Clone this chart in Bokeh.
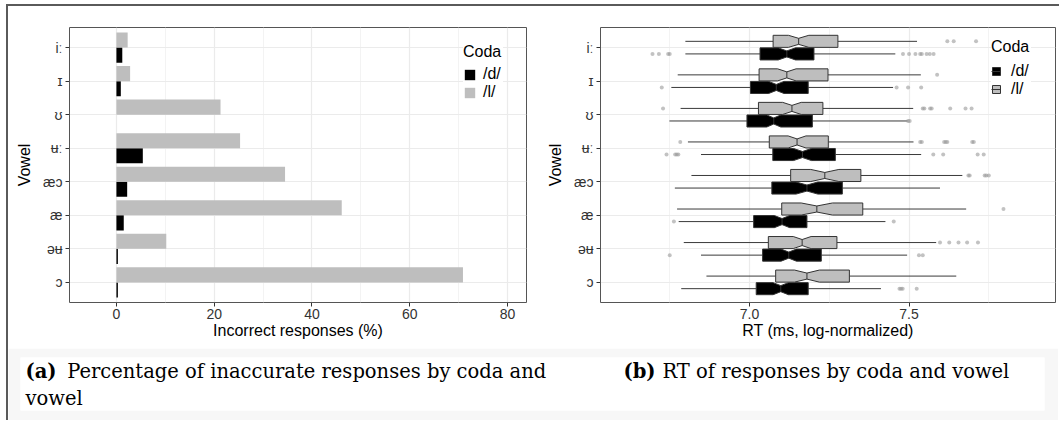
from bokeh.plotting import figure
from bokeh.models import Range1d, FixedTicker, NumeralTickFormatter, Legend, LegendItem, ColumnDataSource
from bokeh.layouts import row, column
from bokeh.embed import file_html
from bokeh.resources import INLINE
from bokeh.core.properties import value

# ---------------- data ----------------
vowels = ["iː", "ɪ", "ʊ", "ʉː", "æɔ", "æ", "əʉ", "ɔ"]          # top to bottom
codas = ["/d/", "/l/"]
coda_colors = ["#000000", "#bebebe"]

# (a) percentage of incorrect responses
err_d = [1.2, 0.9, 0.0, 5.4, 2.2, 1.5, 0.3, 0.3]
err_l = [2.3, 2.8, 21.3, 25.3, 34.5, 46.1, 10.2, 70.9]
x_ticks_a = [0, 20, 40, 60, 80]
x_minor_a = [10, 30, 50, 70]

# (b) RT (log ms) box statistics
rt_d_low = [6.799, 6.755, 6.749, 6.848, 6.766, 6.778, 6.848, 6.786]
rt_d_q1 = [7.033, 7.003, 6.992, 7.073, 7.070, 7.013, 7.041, 7.021]
rt_d_med = [7.117, 7.084, 7.076, 7.166, 7.180, 7.102, 7.123, 7.098]
rt_d_q3 = [7.202, 7.184, 7.197, 7.269, 7.291, 7.180, 7.225, 7.184]
rt_d_high = [7.457, 7.450, 7.496, 7.538, 7.597, 7.426, 7.494, 7.412]
rt_d_notch = [0.027, 0.024, 0.022, 0.028, 0.034, 0.024, 0.024, 0.024]
rt_d_out = [
    [6.696, 6.716, 6.745, 6.750, 7.481, 7.500, 7.520, 7.535, 7.540, 7.555, 7.565, 7.577],
    [6.725, 7.461, 7.497, 7.538],
    [7.497, 7.502],
    [6.740, 6.767, 6.772, 6.777, 7.576, 7.607, 7.715, 7.734],
    [],
    [6.763, 7.452],
    [6.750, 7.531, 7.543],
    [7.470, 7.475, 7.480, 7.524],
]

rt_l_low = [6.799, 6.775, 6.784, 6.807, 6.818, 6.773, 6.794, 6.865]
rt_l_q1 = [7.074, 7.030, 7.028, 7.062, 7.129, 7.101, 7.059, 7.082]
rt_l_med = [7.154, 7.117, 7.133, 7.149, 7.236, 7.211, 7.165, 7.180]
rt_l_q3 = [7.277, 7.246, 7.230, 7.247, 7.349, 7.355, 7.274, 7.313]
rt_l_high = [7.525, 7.537, 7.513, 7.514, 7.667, 7.679, 7.585, 7.648]
rt_l_notch = [0.032, 0.029, 0.029, 0.028, 0.044, 0.049, 0.028, 0.039]
rt_l_out = [
    [7.620, 7.640, 7.710],
    [7.588],
    [6.729, 7.543, 7.548, 7.566, 7.571, 7.629, 7.677, 7.696],
    [6.783, 7.535, 7.540, 7.610, 7.615, 7.620, 7.698, 7.703],
    [7.686, 7.690, 7.737, 7.742, 7.750],
    [7.796],
    [7.597, 7.626, 7.655, 7.682, 7.716],
    [],
]
x_ticks_b = [7.0, 7.5]
x_minor_b = [6.75, 7.25, 7.75]

caption_a = ("(a)", "Percentage of inaccurate responses by coda and", "vowel")
caption_b = ("(b)", "RT of responses by coda and vowel")
x_title_a = "Incorrect responses (%)"
x_title_b = "RT (ms, log-normalized)"
y_title = "Vowel"
legend_title = "Coda"

# ---------------- helpers ----------------
SANS = "Liberation Sans"
SERIF = "DejaVu Serif"
n = len(vowels)
ypos = [n - i for i in range(n)]          # iː at top
y_over = {y: v for y, v in zip(ypos, vowels)}


def style(p):
    p.outline_line_color = "#555555"
    p.outline_line_width = 1
    p.background_fill_color = "white"
    p.border_fill_color = "white"
    for ax in (p.xaxis[0], p.yaxis[0]):
        ax.axis_line_color = None
        ax.major_tick_line_color = "#333333"
        ax.major_tick_out = 4
        ax.major_tick_in = 0
        ax.minor_tick_line_color = None
        ax.major_label_text_font = SANS
        ax.major_label_text_font_size = "14px"
        ax.major_label_text_color = "#333333"
        ax.axis_label_text_font = SANS
        ax.axis_label_text_font_size = "16px"
        ax.axis_label_text_font_style = "normal"
        ax.axis_label_text_color = "black"
        ax.major_label_standoff = 2
        ax.axis_label_standoff = 0
    p.yaxis[0].axis_label_standoff = 7
    p.yaxis[0].major_label_standoff = 3
    p.yaxis[0].ticker = FixedTicker(ticks=ypos)
    p.yaxis[0].major_label_overrides = y_over
    p.xgrid.grid_line_color = "#ebebeb"
    p.xgrid.grid_line_width = 1.2
    p.xgrid.minor_grid_line_color = "#f3f3f3"
    p.xgrid.minor_grid_line_width = 1
    p.ygrid.grid_line_color = "#ebebeb"
    p.ygrid.grid_line_width = 1.2


def style_legend(leg):
    leg.title_text_font = SANS
    leg.title_text_font_size = "16px"
    leg.title_text_font_style = "normal"
    leg.title_text_color = "black"
    leg.label_text_font = SANS
    leg.label_text_font_size = "16px"
    leg.label_text_color = "black"
    leg.border_line_color = None
    leg.background_fill_color = "white"
    leg.background_fill_alpha = 1
    leg.spacing = 0
    leg.margin = 0
    leg.padding = 8


# ---------------- panel (a) ----------------
fa = figure(width=536, height=342, x_range=Range1d(-9.6, 83.9), y_range=Range1d(0.4, 8.6),
            output_backend="svg", toolbar_location=None,
            min_border_left=61, min_border_right=18, min_border_top=21, min_border_bottom=46)
fa.xaxis[0].ticker = FixedTicker(ticks=x_ticks_a, minor_ticks=x_minor_a)
fa.xaxis.axis_label = x_title_a
fa.yaxis.axis_label = y_title
style(fa)

src_a = ColumnDataSource(dict(yd=[y - 0.225 for y in ypos], yl=[y + 0.225 for y in ypos],
                              d=err_d, l=err_l))
r_d = fa.hbar(y="yd", left=0, right="d", height=0.45, source=src_a,
              fill_color=coda_colors[0], line_color=None)
r_l = fa.hbar(y="yl", left=0, right="l", height=0.45, source=src_a,
              fill_color=coda_colors[1], line_color=None)

leg_a = Legend(items=[LegendItem(label=codas[0], renderers=[r_d]),
                      LegendItem(label=codas[1], renderers=[r_l])],
               title=legend_title, location=(394, 201))
style_legend(leg_a)
leg_a.glyph_width = 13
leg_a.glyph_height = 13
leg_a.label_height = 12
leg_a.label_standoff = 7
leg_a.title_standoff = 4
fa.add_layout(leg_a, "center")

# ---------------- panel (b) ----------------
fb = figure(width=515, height=342, x_range=Range1d(6.533, 7.959), y_range=Range1d(0.4, 8.6),
            output_backend="svg", toolbar_location=None,
            min_border_left=50, min_border_right=4, min_border_top=21, min_border_bottom=46)
fb.xaxis[0].ticker = FixedTicker(ticks=x_ticks_b, minor_ticks=x_minor_b)
fb.xaxis[0].formatter = NumeralTickFormatter(format="0.0")
fb.xaxis.axis_label = x_title_b
fb.yaxis.axis_label = y_title
style(fb)

half = 0.18
box_items = []
stats = [
    (rt_d_low, rt_d_q1, rt_d_med, rt_d_q3, rt_d_high, rt_d_notch, rt_d_out, -0.1875),
    (rt_l_low, rt_l_q1, rt_l_med, rt_l_q3, rt_l_high, rt_l_notch, rt_l_out, +0.1875),
]
for k, (lo, q1, med, q3, hi, nw, outs, off) in enumerate(stats):
    yc = [y + off for y in ypos]
    # whiskers
    fb.segment(x0=lo + q3, y0=yc + yc, x1=q1 + hi, y1=yc + yc, line_color="#3a3a3a", line_width=1)
    xs, ys = [], []
    for i in range(n):
        xs.append([q1[i], med[i] - nw[i], med[i], med[i] + nw[i], q3[i],
                   q3[i], med[i] + nw[i], med[i], med[i] - nw[i], q1[i]])
        c = yc[i]
        ys.append([c - half, c - half, c - half / 2, c - half, c - half,
                   c + half, c + half, c + half / 2, c + half, c + half])
    rb = fb.patches(xs=xs, ys=ys, fill_color=coda_colors[k], line_color="#333333", line_width=1)
    rm = fb.segment(x0=med, y0=[c - half / 2 for c in yc], x1=med, y1=[c + half / 2 for c in yc],
                    line_color="#333333", line_width=1)
    ox, oy = [], []
    for i in range(n):
        ox += outs[i]
        oy += [yc[i]] * len(outs[i])
    fb.scatter(x=ox, y=oy, size=4, fill_color="#9a9a9a", fill_alpha=0.6, line_color=None)
    box_items.append(LegendItem(label=codas[k], renderers=[rb, rm]))

leg_b = Legend(items=box_items, title=legend_title, location=(391, 204))
style_legend(leg_b)
leg_b.glyph_width = 10
leg_b.glyph_height = 10
leg_b.label_standoff = 10
leg_b.title_standoff = 6
fb.add_layout(leg_b, "center")

# ---------------- captions ----------------
fc = figure(width=1050, height=72, x_range=Range1d(0, 1024), y_range=Range1d(53, 0),
            output_backend="svg", toolbar_location=None,
            x_axis_location=None, y_axis_location=None,
            min_border_left=12, min_border_right=14, min_border_top=9, min_border_bottom=10)
fc.grid.visible = False
fc.outline_line_color = None
fc.background_fill_color = "white"
fc.border_fill_color = "#f7f7f7"
cap_kw = dict(text_font=value(SERIF), text_font_size="19.5px", text_baseline="alphabetic",
              text_color="black")
fc.text(x=[5, 603], y=[14, 14], text=[caption_a[0], caption_b[0]], text_font_style="bold", **cap_kw)
fc.text(x=[46.7, 642, 5], y=[14, 14, 41], text=[caption_a[1], caption_b[1], caption_a[2]], **cap_kw)

layout = column(row(fa, fb), fc, margin=(4, 0, 0, 6),
                styles={"border-top": "2px solid #5a5a5a", "border-left": "2px solid #5a5a5a"})

open("out.html", "w").write(file_html(layout, INLINE))
